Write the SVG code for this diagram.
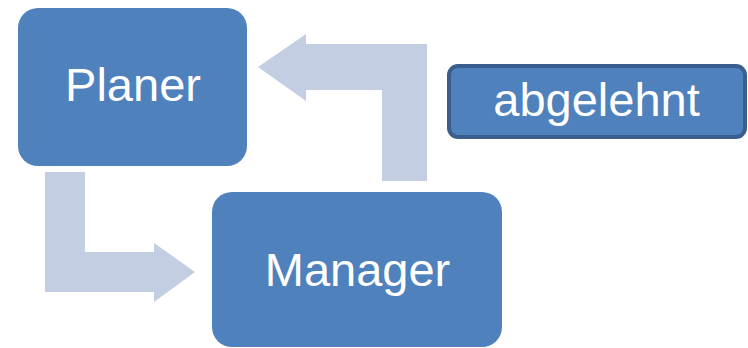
<svg xmlns="http://www.w3.org/2000/svg" width="748" height="348" viewBox="0 0 748 348">
<style>
.box{fill:#4F81BD}
.lbl{fill:#fff;font-family:"Liberation Sans",Arial,sans-serif;font-size:47px;text-anchor:middle}
.arr{fill:#C3CEE2}
</style>
<rect width="748" height="348" fill="#fff"/>
<g id="connectors">
<path class="arr" d="M427,44 L306,44 L306,34 L258,67 L306,101 L306,90 L382,90 L382,181 L427,181 Z"/>
<path class="arr" d="M45,172 L85,172 L85,252 L154,252 L154,243 L195,272 L154,302 L154,292 L45,292 Z"/>
</g>
<g id="planer">
<rect class="box" x="18" y="8" width="229" height="158" rx="20"/>
<text class="lbl" x="133" y="101">Planer</text>
</g>
<g id="manager">
<rect class="box" x="212" y="192" width="290" height="155" rx="20"/>
<text class="lbl" x="357.5" y="286">Manager</text>
</g>
<g id="abgelehnt">
<rect x="449" y="66" width="296" height="71" rx="9" fill="#4F81BD" stroke="#3A5F8E" stroke-width="4"/>
<text class="lbl" x="596.5" y="116">abgelehnt</text>
</g>
</svg>
